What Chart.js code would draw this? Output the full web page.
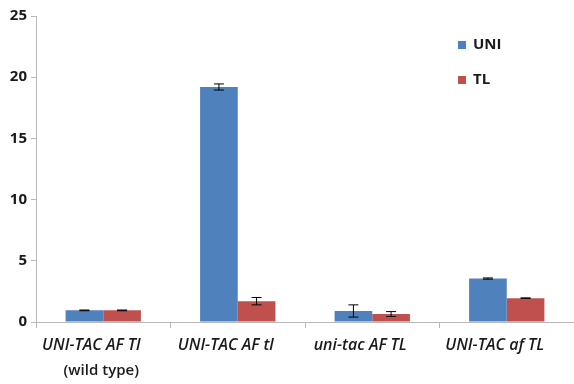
<!DOCTYPE html>
<html lang="en">
<head>
    <meta charset="UTF-8">
    <title>UNI TL</title>
    <script src="https://cdn.jsdelivr.net/npm/chart.js"></script>
    <style>
        body, html {
            margin: 0;
            padding: 0;
            background: #ffffff;
        }
    </style>
</head>
<body>
    <canvas id="barChart" width="574" height="384"></canvas>

    <script>
    const categories = ['UNI-TAC AF Tl', 'UNI-TAC AF tl', 'uni-tac AF TL', 'UNI-TAC af TL'];
    const subLabels = ['(wild type)', '', '', ''];
    const uniValues = [0.95, 19.2, 0.9, 3.55];
    const uniErrors = [0.03, 0.25, 0.5, 0.05];
    const tlValues = [0.95, 1.7, 0.65, 1.95];
    const tlErrors = [0.03, 0.3, 0.2, 0.02];
    const yTicks = [0, 5, 10, 15, 20, 25];

    const errorBars = {
        id: 'errorBars',
        afterDatasetsDraw(chart) {
            const ctx = chart.ctx;
            const y = chart.scales.y;
            ctx.save();
            ctx.strokeStyle = '#000000';
            ctx.lineWidth = 1;
            chart.data.datasets.forEach((ds, i) => {
                chart.getDatasetMeta(i).data.forEach((bar, j) => {
                    const v = ds.data[j], e = ds.errors[j];
                    const top = y.getPixelForValue(v + e);
                    const bot = y.getPixelForValue(v - e);
                    ctx.beginPath();
                    ctx.moveTo(bar.x, top); ctx.lineTo(bar.x, bot);
                    ctx.moveTo(bar.x - 5, top); ctx.lineTo(bar.x + 5, top);
                    ctx.moveTo(bar.x - 5, bot); ctx.lineTo(bar.x + 5, bot);
                    ctx.stroke();
                });
            });
            ctx.restore();
        }
    };

    const sideLegend = {
        id: 'sideLegend',
        afterDraw(chart) {
            const ctx = chart.ctx;
            ctx.save();
            ctx.font = 'bold 15px "Open Sans", sans-serif';
            ctx.textBaseline = 'middle';
            chart.data.datasets.forEach((ds, i) => {
                const yy = 45 + i * 35;
                ctx.fillStyle = ds.backgroundColor;
                ctx.fillRect(458, yy - 4, 8, 8);
                ctx.fillStyle = '#1a1a1a';
                ctx.fillText(ds.label, 473, yy);
            });
            ctx.restore();
        }
    };

    // category labels sit a little left of the bar groups in the original
    const xLabels = {
        id: 'xLabels',
        afterDraw(chart) {
            const ctx = chart.ctx;
            const x = chart.scales.x;
            ctx.save();
            ctx.fillStyle = '#1a1a1a';
            ctx.textAlign = 'center';
            ctx.textBaseline = 'middle';
            categories.forEach((c, i) => {
                const cx = x.getPixelForValue(i) - 12;
                ctx.font = 'italic 600 16px "Open Sans", sans-serif';
                ctx.fillText(c, cx, 345);
                if (subLabels[i]) {
                    ctx.font = '600 15px "Open Sans", sans-serif';
                    ctx.fillText(subLabels[i], cx + 10, 371);
                }
            });
            ctx.restore();
        }
    };

    new Chart(document.getElementById('barChart').getContext('2d'), {
        type: 'bar',
        data: {
            labels: categories,
            datasets: [
                { label: 'UNI', data: uniValues, errors: uniErrors, backgroundColor: '#4f81bd' },
                { label: 'TL', data: tlValues, errors: tlErrors, backgroundColor: '#c0504d' }
            ]
        },
        options: {
            responsive: false,
            animation: false,
            layout: { padding: { top: 16, right: 0, left: 0, bottom: 0 } },
            datasets: { bar: { categoryPercentage: 0.56, barPercentage: 1 } },
            plugins: {
                legend: { display: false },
                tooltip: { enabled: false }
            },
            scales: {
                x: {
                    afterFit(scale) { scale.height = 62; },
                    grid: { offset: true, drawOnChartArea: false, tickLength: 6, color: '#b8b8b8' },
                    border: { color: '#b8b8b8' },
                    ticks: { display: false }
                },
                y: {
                    min: 0,
                    max: 25,
                    afterFit(scale) { scale.width = 36; },
                    afterBuildTicks(scale) { scale.ticks = yTicks.map(v => ({ value: v })); },
                    grid: { drawOnChartArea: false, tickLength: 5, color: '#b8b8b8' },
                    border: { color: '#b8b8b8' },
                    ticks: {
                        color: '#1a1a1a',
                        font: { family: '"Open Sans", sans-serif', size: 15, weight: 'bold' },
                        padding: 4
                    }
                }
            }
        },
        plugins: [errorBars, sideLegend, xLabels]
    });
    </script>
</body>
</html>
